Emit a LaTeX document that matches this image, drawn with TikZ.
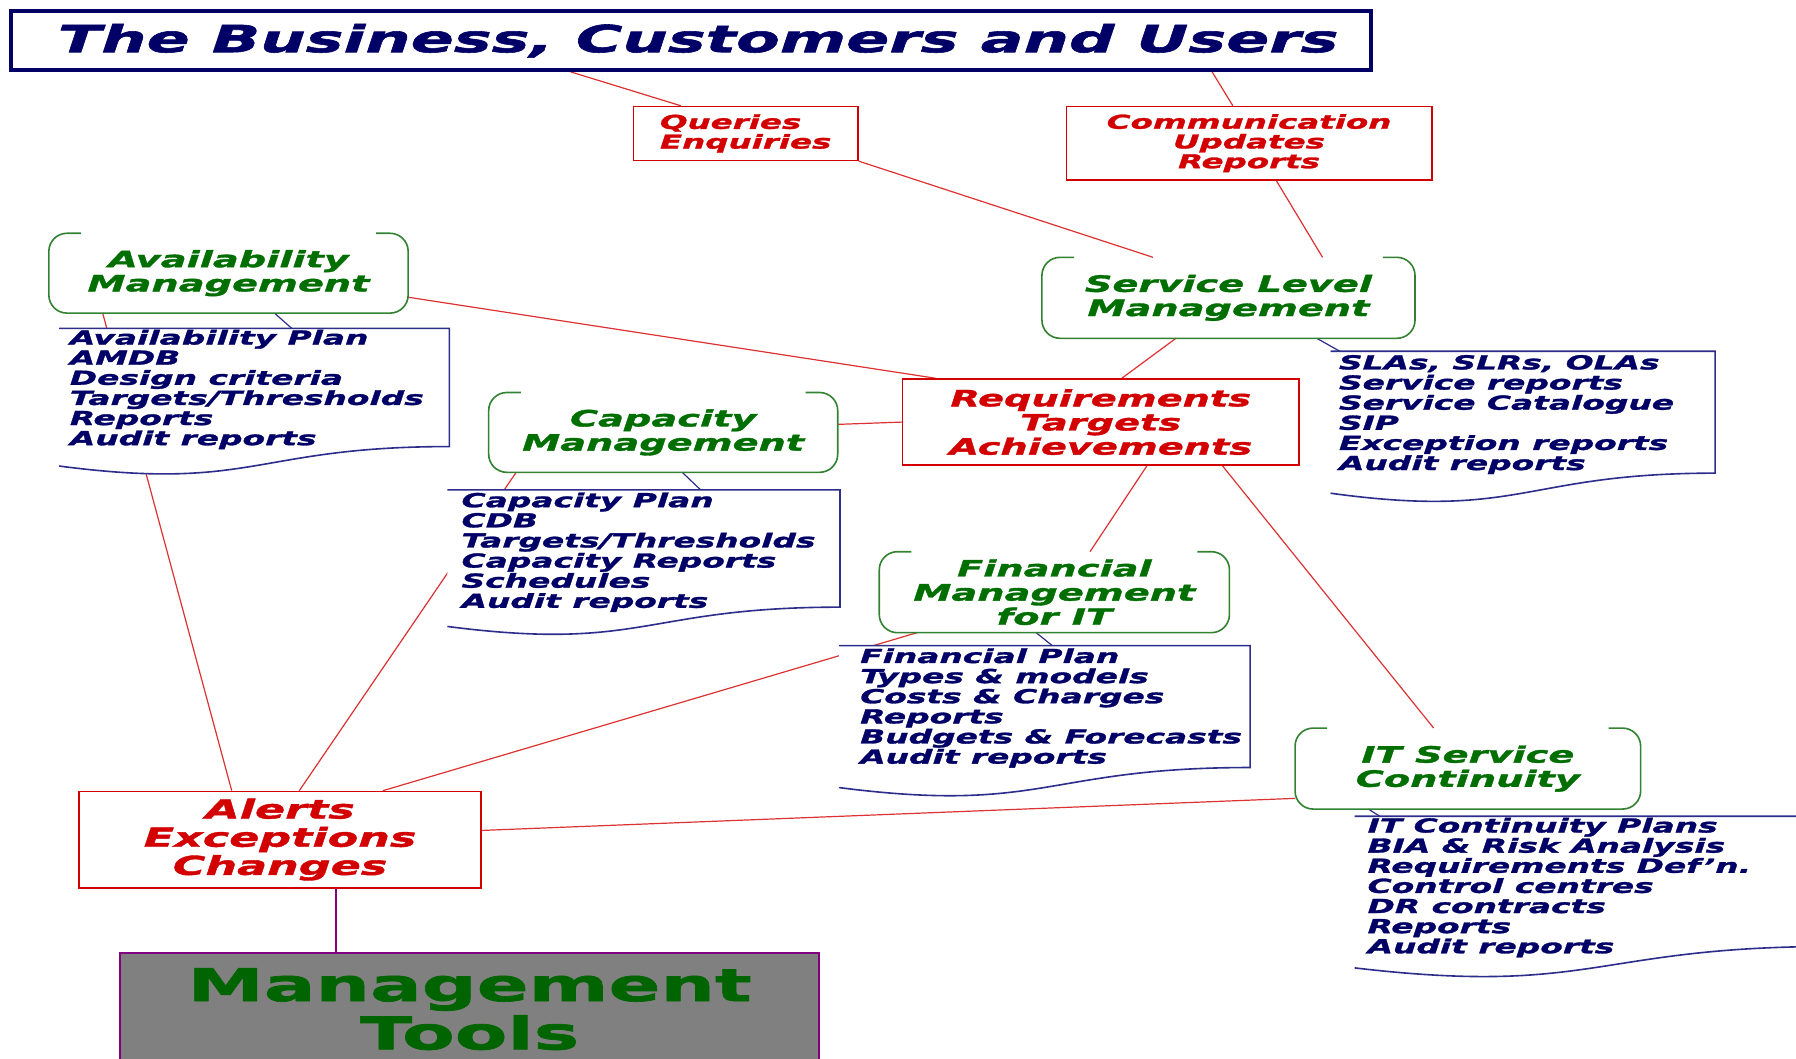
\documentclass[tikz,border=0pt]{standalone}
\usepackage{fontspec}
\newfontfamily\boxfont[FakeStretch=1.7,FakeBold=1.5]{DejaVu Sans Bold Oblique}
\newfontfamily\toolfont[FakeStretch=1.7,FakeBold=1.5]{DejaVu Sans Bold}
\usetikzlibrary{calc}
\definecolor{navy}{RGB}{0,0,102}
\definecolor{navyline}{RGB}{45,45,140}
\definecolor{itilred}{RGB}{210,0,0}
\definecolor{linkred}{RGB}{220,50,50}
\definecolor{itilgreen}{RGB}{0,110,0}
\definecolor{boxgreen}{RGB}{50,130,50}
\definecolor{toolgreen}{RGB}{0,100,0}
\definecolor{toolgray}{RGB}{128,128,128}
\definecolor{toolpurple}{RGB}{128,0,128}
\pgfdeclarelayer{lines}
\pgfdeclarelayer{shapes}
\pgfsetlayers{lines,shapes,main}

\begin{document}
\begin{tikzpicture}
	[x=0.02cm, y=-0.02cm,
		boxsize/.style 2 args	={minimum width=#1*0.02cm, minimum height=#2*0.02cm},
		banner/.style		={draw=navy, line width=2pt, inner sep=0pt, text=navy,
									font=\boxfont\fontsize{18.6}{20}\selectfont},
		flow/.style			={draw=itilred, line width=0.8pt, fill=white, inner sep=0pt,
									text=itilred, align=center,
									font=\boxfont\fontsize{9.5}{9.8}\selectfont},
		target/.style		={flow, font=\boxfont\fontsize{11.2}{12}\selectfont},
		alert/.style		={flow, font=\boxfont\fontsize{13}{14}\selectfont},
		process/.style		={inner sep=0pt, text=itilgreen, align=center,
									font=\boxfont\fontsize{11.2}{12}\selectfont},
		tools/.style		={draw=toolpurple, line width=0.8pt, fill=toolgray, inner sep=0pt,
									text=toolgreen, align=center,
									font=\toolfont\fontsize{22.4}{24}\selectfont},
		doc/.style			={inner sep=0pt},
		doctext/.style		={anchor=north west, inner sep=0pt, text=navy, align=left,
									font=\boxfont\fontsize{9.6}{10}\selectfont},
		procline/.style	={draw=boxgreen, line width=0.8pt, rounded corners=9pt},
		docline/.style		={draw=navyline, line width=0.8pt},
		line/.style		 	={draw=linkred, line width=0.6pt},
		link/.style		 	={draw=navyline, line width=0.6pt}
	]
\useasboundingbox (0,0) rectangle (1568,924);

% top
\node [banner, boxsize={1187}{51}] (business) at (603.5,35.5) {\hspace{7pt}The Business, Customers and Users};
\node [flow, boxsize={196}{47}, align=left] (queries) at (651,116.5) {Queries\\Enquiries};
\node [flow, boxsize={319}{64}] (comms) at (1090.5,125) {Communication\\Updates\\Reports};

% processes
\node [process, boxsize={313}{69}] (avail)	at (199.5,238.5)	{Availability\\Management};
\node [process, boxsize={325}{70}] (slm)		at (1072.5,260)	{Service Level\\Management};
\node [process, boxsize={304}{69}] (capac)	at (579,377.5)		{Capacity\\Management};
\node [process, boxsize={305}{70}] (fin)		at (920.5,517)		{Financial\\Management\\for IT};
\node [process, boxsize={301}{70}] (itsc)		at (1281.5,671)	{IT Service\\Continuity};

% centre and bottom
\node [target, boxsize={346}{75}] (targets) at (961,368.5) {Requirements\\Targets\\Achievements};
\node [alert, boxsize={351}{84}] (alerts) at (244.5,733) {Alerts\\Exceptions\\Changes};
\node [tools, boxsize={610}{98}] (tools) at (410,881) {Management\\Tools};

% documents
\node [doc, boxsize={340}{128}] (availdoc)	at (222,351)		{};
\node [doc, boxsize={342}{127}] (capdoc)		at (562,491.5)		{};
\node [doc, boxsize={335}{132}] (slmdoc)		at (1329.5,373)	{};
\node [doc, boxsize={358}{132}] (findoc)		at (912,630)		{};
\node [doc, boxsize={417}{141}] (itdoc)		at (1391.5,783.5)	{};

\node [doctext] (availlist) at ($(availdoc.north west)+(9,1)$)
	{Availability Plan\\AMDB\\Design criteria\\Targets/Thresholds\\Reports\\Audit reports};
\node [doctext] (caplist) at ($(capdoc.north west)+(12,2)$)
	{Capacity Plan\\CDB\\Targets/Thresholds\\Capacity Reports\\Schedules\\Audit reports};
\node [doctext] (slmlist) at ($(slmdoc.north west)+(7,3)$)
	{SLAs, SLRs, OLAs\\Service reports\\Service Catalogue\\SIP\\Exception reports\\Audit reports};
\node [doctext] (finlist) at ($(findoc.north west)+(18,2)$)
	{Financial Plan\\Types \& models\\Costs \& Charges\\Reports\\Budgets \& Forecasts\\Audit reports};
\node [doctext] (itlist) at ($(itdoc.north west)+(11,1)$)
	{IT Continuity Plans\\BIA \& Risk Analysis\\Requirements Def’n.\\Control centres\\DR contracts\\Reports\\Audit reports};

\foreach \p in {avail,slm,capac,fin,itsc}
	\draw [procline] ($(\p.north west)+(28,0)$) -- (\p.north west) -- (\p.south west)
		-- (\p.south east) -- (\p.north east) -- ($(\p.north east)+(-28,0)$);

\begin{pgfonlayer}{shapes}
\foreach \d in {availdoc,capdoc,slmdoc,findoc,itdoc}
{
	\fill [white] (\d.north west) -- (\d.north east) -- ($(\d.north east)!0.802!(\d.south east)$)
		.. controls ($(\d.north)!0.802!(\d.south)$) and ($(\d.north)!1.108!(\d.south)$)
		.. ($(\d.north west)!0.934!(\d.south west)$) -- cycle;
	\draw [docline] (\d.north west) -- (\d.north east) -- ($(\d.north east)!0.802!(\d.south east)$)
		.. controls ($(\d.north)!0.802!(\d.south)$) and ($(\d.north)!1.108!(\d.south)$)
		.. ($(\d.north west)!0.934!(\d.south west)$);
}
\end{pgfonlayer}

\begin{pgfonlayer}{lines}
\begin{scope}[every path/.style=line]
	\path	($(business.south west)+(490,0)$)	-- ($(queries.north west)+(42,0)$);
	\path	($(business.south west)+(1050,0)$)	-- ($(comms.north west)+(146,0)$);
	\path	(queries.south east)					-- ($(slm.north west)+(97,0)$);
	\path	($(comms.south west)+(184,0)$)		-- ($(slm.north west)+(245,0)$);

	\path	($(slm.south west)+(117,0)$)			-- ($(targets.north west)+(192,0)$);
	\path	($(avail.east)+(0,21)$)				-- ($(targets.north west)+(30,0)$);
	\path	($(capac.east)+(0,-7)$)				-- (targets.west);
	\path	($(targets.south west)+(214,0)$)	-- ($(fin.north west)+(184,0)$);
	\path	($(targets.south west)+(280,0)$)	-- ($(itsc.north west)+(121,0)$);

	\path	($(avail.south west)+(47,0)$)		-- ($(alerts.north west)+(134,0)$);
	\path	($(capac.south west)+(24,0)$)		-- ($(alerts.north west)+(193,0)$);
	\path	($(fin.south west)+(33,0)$)			-- ($(alerts.north west)+(266,0)$);
	\path	($(alerts.east)+(0,-8)$)				-- ($(itsc.west)+(0,26)$);

	\path	[draw=toolpurple] ($(alerts.south west)+(225,0)$) -- ($(tools.north west)+(189,0)$);
\end{scope}
\begin{scope}[every path/.style=link]
	\path	($(avail.south west)+(197,0)$)		-- ($(availdoc.north west)+(203,0)$);
	\path	($(capac.south west)+(169,0)$)		-- ($(capdoc.north west)+(221,0)$);
	\path	($(slm.south west)+(240,0)$)			-- ($(slmdoc.north west)+(8,0)$);
	\path	($(fin.south west)+(137,0)$)			-- ($(findoc.north west)+(186,0)$);
	\path	($(itsc.south west)+(64,0)$)			-- ($(itdoc.north west)+(22,0)$);
\end{scope}
\end{pgfonlayer}
\end{tikzpicture}
\end{document}
